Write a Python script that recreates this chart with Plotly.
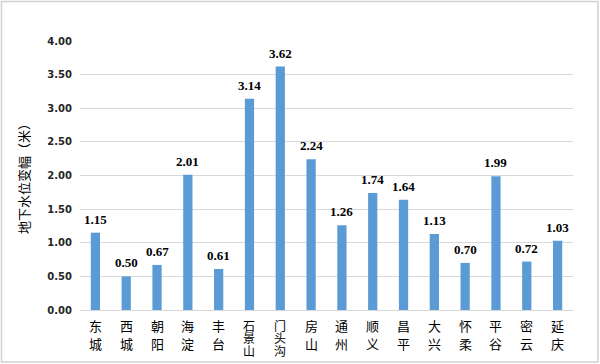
import plotly.graph_objects as go

categories = ["东城", "西城", "朝阳", "海淀", "丰台", "石景山", "门头沟",
              "房山", "通州", "顺义", "昌平", "大兴", "怀柔", "平谷", "密云", "延庆"]
values = [1.15, 0.50, 0.67, 2.01, 0.61, 3.14, 3.62, 2.24, 1.26, 1.74, 1.64, 1.13, 0.70, 1.99, 0.72, 1.03]
tick_vals = [0, 0.5, 1, 1.5, 2, 2.5, 3, 3.5, 4]
tick_text = ["%.2f" % v for v in tick_vals]

fig = go.Figure(go.Bar(
    x=categories, y=values,
    marker=dict(color="#5B9BD5", line=dict(width=0)),
    hoverinfo="x+y",
))

# value labels
for c, v in zip(categories, values):
    fig.add_annotation(x=c, y=v, xref="x", yref="y", text="<b>%.2f</b>" % v,
                       showarrow=False, yanchor="bottom", yshift=4,
                       font=dict(family="Liberation Serif, Times New Roman, serif", size=13, color="#000000"))

# vertical category labels (one character per line)
for c in categories:
    if len(c) == 2:
        step, fs = 18, 13
    else:
        step, fs = 12.5, 12
    for i, ch in enumerate(c):
        fig.add_annotation(x=c, y=0, xref="x", yref="y", text=ch, showarrow=False,
                           yanchor="middle", yshift=-15 - i * step,
                           font=dict(family="Noto Sans CJK SC", size=fs, color="#000000"))

W0, W1, H0, H1 = 80, 573, 41, 310
pw, ph = W1 - W0, H1 - H0
fig.add_shape(type="rect", xref="paper", yref="paper",
              x0=(1.5 - W0) / pw, x1=(598 - W0) / pw,
              y0=(H1 - 362) / ph, y1=(H1 - 1.5) / ph,
              line=dict(color="#d0d0d0", width=1.5), layer="below")

fig.update_layout(
    width=600, height=364,
    margin=dict(l=W0, r=600 - W1, t=H0, b=364 - H1),
    paper_bgcolor="white", plot_bgcolor="white",
    bargap=0.7,
    showlegend=False,
    xaxis=dict(
        showticklabels=False, automargin=False,
        showline=True, linecolor="#d9d9d9", linewidth=1,
        ticks="",
    ),
    yaxis=dict(
        range=[0, 4], tickvals=tick_vals, ticktext=["<b>%s</b>" % t for t in tick_text],
        tickfont=dict(family="DejaVu Sans", size=10, color="#262626"),
        showgrid=True, gridcolor="#d9d9d9", gridwidth=1,
        zeroline=False, showline=False, ticks="", automargin=False,
        ticklabelstandoff=7,
        title=dict(text="地下水位变幅（米）", font=dict(family="Noto Sans CJK SC", size=13, color="#000000"),
                   standoff=14),
    ),
)

fig.write_html("out.html", config={"displayModeBar": False},
               post_script="document.body.style.margin='0';document.body.style.overflow='hidden';")
